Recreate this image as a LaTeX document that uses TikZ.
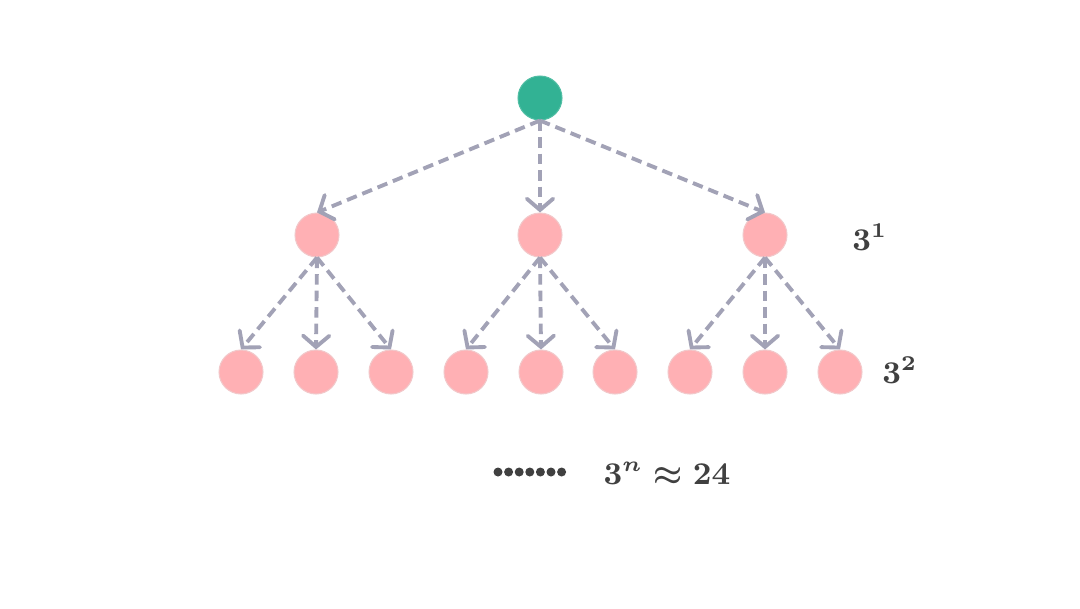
\documentclass[tikz,border=0pt]{standalone}
\usetikzlibrary{arrows.meta}
\definecolor{rootgreen}{HTML}{32B294}
\definecolor{leafpink}{HTML}{FFB0B4}
\definecolor{leafrim}{HTML}{F2C8CA}
\definecolor{edgegray}{HTML}{A2A2B6}
\definecolor{labelgray}{HTML}{404040}
\begin{document}
\begin{tikzpicture}[
  ball/.style={circle,minimum size=0.44cm,inner sep=0pt},
  rootball/.style={ball,fill=rootgreen,draw=rootgreen!85!white,line width=0.3pt},
  pinkball/.style={ball,fill=leafpink,draw=leafrim,line width=0.3pt},
  flow/.style={draw=edgegray,line width=1.1pt,dash pattern=on 3pt off 1.7pt,
    -{Straight Barb[length=3.2pt,width=7.5pt,line width=1.1pt,line cap=round]}},
  countlabel/.style={text=labelgray,font=\fontsize{9}{11}\selectfont\boldmath}
]
\useasboundingbox (0,0) rectangle (10.8,6.08);

% root
\node[rootball] (root) at (5.40,5.10) {};

% first level
\node[pinkball] (a) at (3.17,3.73) {};
\node[pinkball] (b) at (5.40,3.73) {};
\node[pinkball] (c) at (7.65,3.73) {};

\draw[flow] (root.south) -- (a.north);
\draw[flow] (root.south) -- (b.north);
\draw[flow] (root.south) -- (c.north);

% second level
\foreach \p/\x [count=\i] in {a/2.41,a/3.16,a/3.91,b/4.66,b/5.41,b/6.15,c/6.90,c/7.65,c/8.40} {
  \node[pinkball] (leaf\i) at (\x,2.36) {};
  \draw[flow] (\p.south) -- (leaf\i.north);
}

% labels
\node[countlabel] (lvlone) at (8.70,3.71) {$3^1$};
\node[countlabel] (lvltwo) at (9.00,2.38) {$3^2$};
\node[countlabel] (lvln) at (6.67,1.34) {$3^n\approx 24$};

% dots
\foreach \k in {0,...,6}
  \fill[labelgray] (4.98+\k*0.106,1.36) circle (0.045);
\end{tikzpicture}
\end{document}
